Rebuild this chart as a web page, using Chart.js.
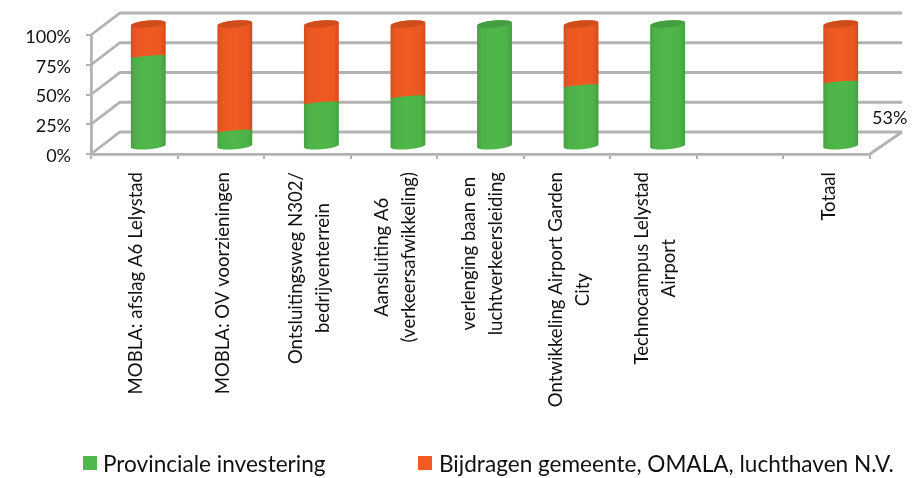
<!DOCTYPE html>
<html>
<head>
<meta charset="utf-8">
<script src="https://cdn.jsdelivr.net/npm/chart.js@4"></script>
<style>
html,body{margin:0;padding:0;background:#fff;width:919px;height:478px;overflow:hidden}
#wrap{position:relative;width:919px;height:478px}
canvas{filter:blur(0.4px)}
</style>
</head>
<body>
<div id="wrap"><canvas id="c" width="919" height="478"></canvas></div>
<script>
const categories = [
  ["MOBLA: afslag A6 Lelystad"],
  ["MOBLA: OV voorzieningen"],
  ["Ontsluitingsweg N302/","bedrijventerrein"],
  ["Aansluiting A6","(verkeersafwikkeling)"],
  ["verlenging baan en","luchtverkeersleiding"],
  ["Ontwikkeling Airport Garden","City"],
  ["Technocampus Lelystad","Airport"],
  [""],
  ["Totaal"]
];
const provinciale = [73, 12, 35, 40, 100, 49, 100, null, 52];
const bijdragen   = [27, 88, 65, 60, 0, 51, 0, null, 48];
const seriesNames = ["Provinciale investering", "Bijdragen gemeente, OMALA, luchthaven N.V."];
const seriesColors = ["#4fb84a", "#f15a22"];
const totalLabel = "53%";
const yTicks = [0, 25, 50, 75, 100];

const FONT = 'Lato, "Open Sans", sans-serif';
const GRID = '#b2b2b2';
const DEPTH_X = 29, DEPTH_Y = -22, BAR_SHIFT = 14;

function shade(hex, k){
  const n = parseInt(hex.slice(1),16);
  const f = v => Math.max(0,Math.min(255,Math.round(v*k)));
  return 'rgb('+f(n>>16)+','+f((n>>8)&255)+','+f(n&255)+')';
}

// Cylinder-shaped bars: geometry comes from the library's own element properties
Chart.BarElement.prototype.draw = function(ctx){
  const {x,y,base,width} = this.getProps(['x','y','base','width']);
  if (base - y < 0.5) return;
  const color = this.options.backgroundColor;
  const cx = x + BAR_SHIFT, rx = width/2, rot = -0.085;
  const isTop = !!this.segTop, isBottom = !!this.segBottom;
  const botRy = isBottom ? 3.2 : 1.2;
  const topRy = isTop ? 3.4 : 1.2;
  const g = ctx.createLinearGradient(cx-rx,0,cx+rx,0);
  g.addColorStop(0, shade(color,0.88));
  g.addColorStop(0.14, shade(color,0.97));
  g.addColorStop(0.5, color);
  g.addColorStop(0.86, shade(color,0.97));
  g.addColorStop(1, shade(color,0.86));
  ctx.save();
  ctx.beginPath();
  ctx.ellipse(cx,base,rx,botRy,rot,0,Math.PI);
  ctx.ellipse(cx,y,rx,topRy,rot,Math.PI,Math.PI*2);
  ctx.closePath();
  ctx.fillStyle = g;
  ctx.fill();
  if (isTop){
    ctx.beginPath();
    ctx.ellipse(cx,y,rx-0.5,topRy,rot,0,Math.PI*2);
    ctx.fillStyle = shade(color,0.86);
    ctx.fill();
  }
  if (!isBottom){
    ctx.beginPath();
    ctx.ellipse(cx,base,rx-0.5,botRy,rot,0,Math.PI);
    ctx.strokeStyle = '#a3b93f';
    ctx.lineWidth = 1.2;
    ctx.stroke();
  }
  ctx.restore();
};

const wallPlugin = {
  id:'wall',
  beforeDatasetsDraw(chart){
    const {ctx,scales:{x,y},chartArea:a} = chart;
    // Tell each bar segment whether it ends the stack
    chart.getDatasetMeta(0).data.forEach((el,i)=>{
      el.segBottom = true;
      el.segTop = provinciale[i] === 100;
    });
    chart.getDatasetMeta(1).data.forEach(el=>{
      el.segBottom = false;
      el.segTop = true;
    });
    ctx.save();
    ctx.strokeStyle = GRID; ctx.lineWidth = 2.8; ctx.lineCap='butt';
    yTicks.forEach(v=>{
      const py = y.getPixelForValue(v);
      ctx.beginPath();
      ctx.moveTo(a.left,py);
      ctx.lineTo(a.left+DEPTH_X,py+DEPTH_Y);
      ctx.lineTo(a.right+DEPTH_X+3,py+DEPTH_Y);
      ctx.stroke();
    });
    const py0 = y.getPixelForValue(0);
    ctx.beginPath();
    ctx.moveTo(a.right,py0);
    ctx.lineTo(a.right+DEPTH_X+3,py0+DEPTH_Y);
    ctx.stroke();
    ctx.restore();
  },
  afterDraw(chart){
    const {ctx,scales:{x},chartArea:a} = chart;
    ctx.save();
    // Category labels: rotated, lines centred on each other
    ctx.fillStyle = '#111';
    ctx.font = '18.6px '+FONT;
    ctx.textBaseline = 'middle';
    const top = 172, lh = 27;
    categories.forEach((lines,i)=>{
      const cx = x.getPixelForTick(i) + 2;
      const widths = lines.map(l=>ctx.measureText(l).width);
      const maxW = Math.max(...widths);
      lines.forEach((l,j)=>{
        ctx.save();
        ctx.translate(cx + (j-(lines.length-1)/2)*lh, top + maxW/2);
        ctx.rotate(-Math.PI/2);
        ctx.textAlign = 'center';
        ctx.fillText(l,0,0);
        ctx.restore();
      });
    });
    // Data label
    ctx.font = '18px '+FONT;
    ctx.textAlign='left';
    ctx.fillText(totalLabel, a.right+2, 118);
    // Legend
    const items = [[83,103],[418,439]];
    ctx.font = '22.6px '+FONT;
    ctx.textBaseline='alphabetic';
    chart.data.datasets.forEach((d,i)=>{
      ctx.fillStyle = d.backgroundColor;
      ctx.fillRect(items[i][0],456,14,14);
      ctx.fillStyle = '#111';
      ctx.fillText(d.label,items[i][1],472);
    });
    ctx.restore();
  }
};

new Chart(document.getElementById('c'),{
  type:'bar',
  data:{
    labels:categories,
    datasets:[
      {label:seriesNames[0],data:provinciale,backgroundColor:seriesColors[0],yAxisID:'yBars',clip:false,barThickness:35},
      {label:seriesNames[1],data:bijdragen,backgroundColor:seriesColors[1],yAxisID:'yBars',clip:false,barThickness:35}
    ]
  },
  options:{
    responsive:false,animation:false,
    layout:{padding:{left:0,right:49,top:35,bottom:324}},
    plugins:{legend:{display:false},tooltip:{enabled:false}},
    scales:{
      x:{
        stacked:true,
        ticks:{display:false},
        grid:{offset:true,drawOnChartArea:false,drawTicks:true,tickLength:5,color:GRID,lineWidth:2},
        border:{display:true,color:GRID,width:2.8},
        afterFit(s){s.height=0;}
      },
      y:{
        min:0,max:100,position:'left',
        afterBuildTicks(s){s.ticks=yTicks.map(v=>({value:v}));},
        ticks:{callback:v=>v+'%',color:'#111',font:{family:FONT,size:18},padding:15,labelOffset:2},
        grid:{drawOnChartArea:false,drawTicks:true,tickLength:5,color:GRID,lineWidth:2},
        border:{display:true,color:GRID,width:2.8},
        afterFit(s){s.width=91;}
      },
      yBars:{
        display:false,stacked:true,
        min:-6.56,max:90.98
      }
    }
  },
  plugins:[wallPlugin]
});
</script>
</body>
</html>
